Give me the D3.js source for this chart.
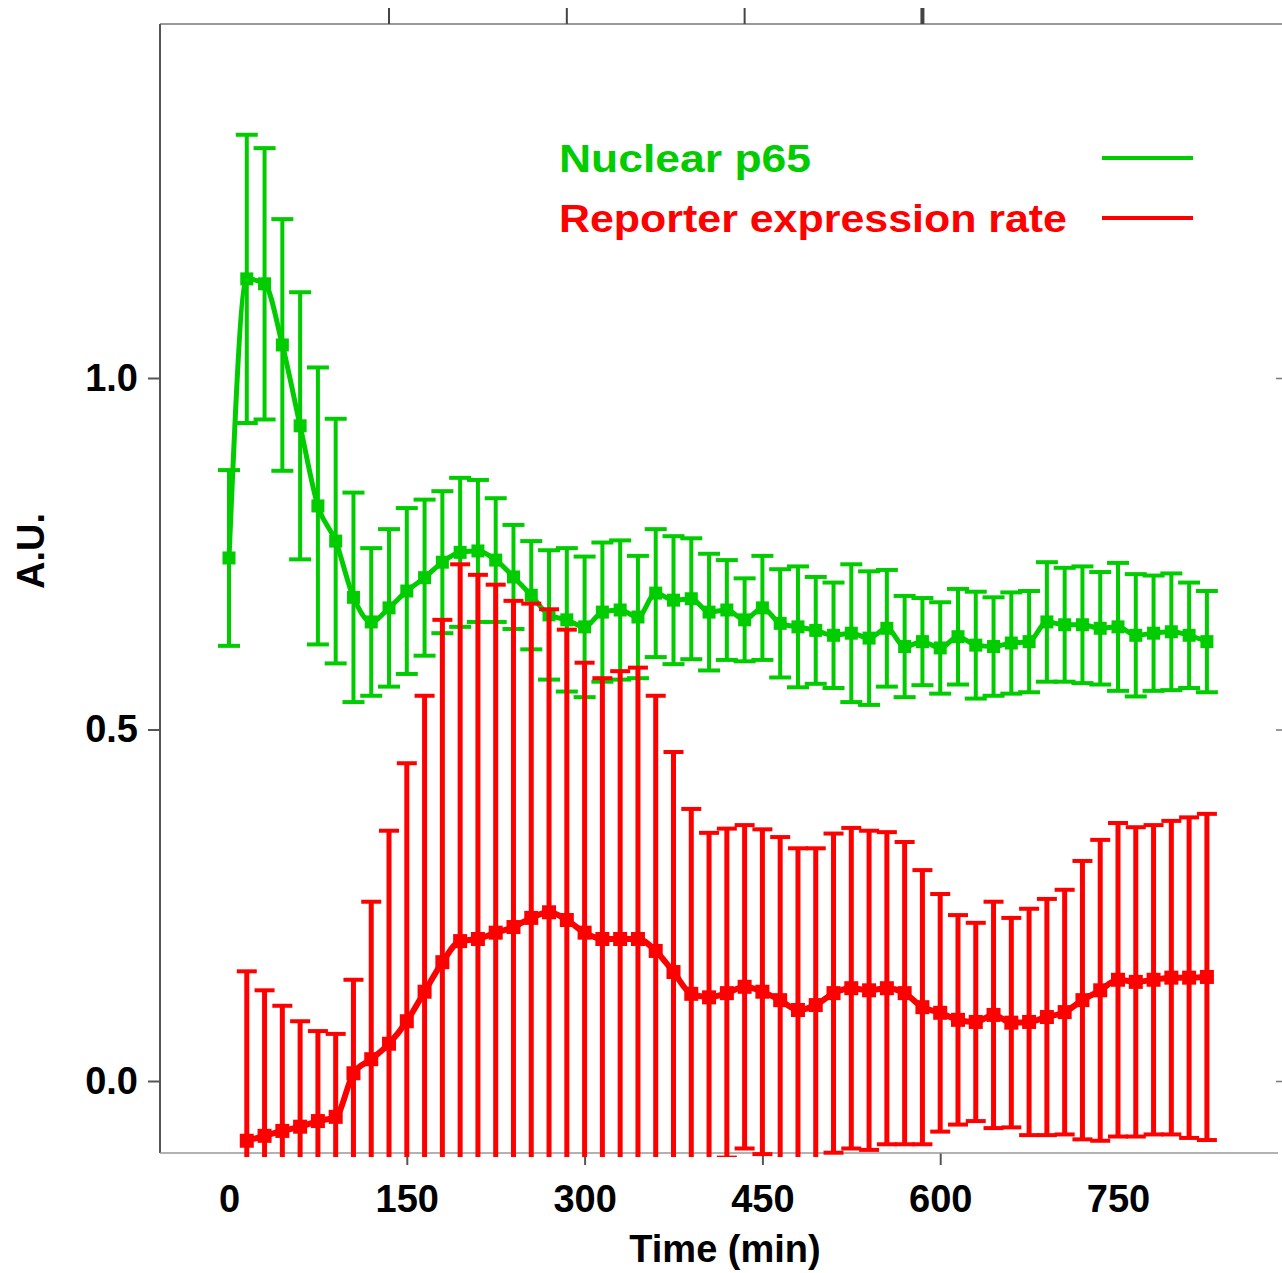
<!DOCTYPE html>
<html>
<head>
<meta charset="utf-8">
<script src="https://cdn.jsdelivr.net/npm/d3@7/dist/d3.min.js"></script>
<style>
  html, body { margin: 0; padding: 0; background: #fff; }
  svg { display: block; }
  text { font-family: "Liberation Sans", Arial, sans-serif; font-weight: bold; }
</style>
</head>
<body>
<script>
// ---------------- DATA ----------------
const greenTime = [0,15,30,45,60,75,90,105,120,135,150,165,180,195,210,225,240,255,270,285,300,315,330,345,360,375,390,405,420,435,450,465,480,495,510,525,540,555,570,585,600,615,630,645,660,675,690,705,720,735,750,765,780,795,810,825];
const greenMean = [0.744,1.141,1.134,1.047,0.932,0.818,0.768,0.688,0.653,0.673,0.697,0.716,0.738,0.752,0.754,0.741,0.717,0.691,0.663,0.656,0.646,0.667,0.670,0.660,0.694,0.684,0.686,0.667,0.670,0.656,0.673,0.651,0.646,0.641,0.634,0.637,0.630,0.644,0.618,0.625,0.616,0.632,0.620,0.618,0.623,0.625,0.653,0.649,0.649,0.644,0.646,0.634,0.637,0.639,0.634,0.625];
const greenErr  = [0.125,0.205,0.193,0.179,0.190,0.197,0.174,0.149,0.105,0.112,0.118,0.111,0.101,0.106,0.101,0.088,0.074,0.077,0.092,0.102,0.100,0.099,0.099,0.087,0.091,0.091,0.086,0.083,0.071,0.059,0.074,0.077,0.086,0.076,0.075,0.098,0.095,0.083,0.072,0.062,0.065,0.068,0.076,0.070,0.072,0.072,0.085,0.081,0.083,0.080,0.091,0.087,0.082,0.083,0.075,0.072];

const redTime = [15,30,45,60,75,90,105,120,135,150,165,180,195,210,225,240,255,270,285,300,315,330,345,360,375,390,405,420,435,450,465,480,495,510,525,540,555,570,585,600,615,630,645,660,675,690,705,720,735,750,765,780,795,810,825];
const redMean = [-0.085,-0.078,-0.071,-0.065,-0.057,-0.051,0.011,0.031,0.053,0.085,0.127,0.169,0.199,0.202,0.211,0.219,0.232,0.240,0.229,0.211,0.202,0.202,0.202,0.185,0.155,0.124,0.119,0.125,0.134,0.127,0.115,0.101,0.108,0.125,0.132,0.129,0.132,0.125,0.105,0.097,0.087,0.084,0.094,0.083,0.084,0.091,0.098,0.115,0.129,0.144,0.141,0.144,0.147,0.147,0.148];
const redErr  = [0.241,0.207,0.178,0.150,0.128,0.118,0.133,0.224,0.303,0.367,0.421,0.487,0.536,0.518,0.495,0.464,0.447,0.431,0.413,0.384,0.371,0.381,0.386,0.363,0.313,0.263,0.234,0.234,0.230,0.231,0.232,0.230,0.223,0.227,0.228,0.227,0.222,0.215,0.195,0.169,0.149,0.141,0.161,0.149,0.161,0.168,0.174,0.198,0.214,0.223,0.220,0.220,0.223,0.228,0.232];

const xTickLabels = [0,150,300,450,600,750];
const xTickMarks = [150,300,450,600];
const topTickMarks = [135,285,435,585];
const yTicks = [0.0,0.5,1.0];
const seriesNames = ["Nuclear p65","Reporter expression rate"];
const xTitle = "Time (min)";
const yTitle = "A.U.";

// ---------------- LAYOUT ----------------
const W = 1282, H = 1273;
const GREEN = "#00cc00", RED = "#ff0000", AXIS = "#555";
const plotLeft = 160, plotRight = 1282, plotTop = 24, plotBottom = 1153;

const x = d3.scaleLinear().domain([0, 750]).range([229, 1118]);
const y = d3.scaleLinear().domain([0, 1]).range([1081, 378]);

const svg = d3.select("body").append("svg").attr("width", W).attr("height", H);
svg.append("rect").attr("width", W).attr("height", H).attr("fill", "#fff");

svg.append("defs").append("clipPath").attr("id", "clip")
  .append("rect").attr("x", plotLeft).attr("y", plotTop)
  .attr("width", plotRight - plotLeft).attr("height", plotBottom - plotTop + 4);

// ---------------- AXES ----------------
// top axis
svg.append("line").attr("x1", plotLeft).attr("x2", plotRight).attr("y1", plotTop).attr("y2", plotTop)
  .attr("stroke", "#777").attr("stroke-width", 1.5);
svg.append("g").selectAll("line").data(topTickMarks).join("line")
  .attr("x1", d => x(d)).attr("x2", d => x(d)).attr("y1", plotTop).attr("y2", plotTop - 16)
  .attr("stroke", "#444").attr("stroke-width", (d, i) => i === topTickMarks.length - 1 ? 4 : 2);

// left axis
const yAxis = d3.axisLeft(y).tickValues(yTicks).tickFormat(d3.format(".1f")).tickSize(12).tickPadding(10);
const gy = svg.append("g").attr("transform", `translate(${plotLeft},0)`).call(yAxis);
gy.select(".domain").remove();
gy.selectAll(".tick line").attr("stroke", AXIS).attr("stroke-width", 2);
gy.selectAll(".tick text").attr("font-size", 38).attr("fill", "#000")
  .attr("font-family", "'Liberation Sans', Arial, sans-serif").attr("font-weight", "bold");
svg.append("line").attr("x1", plotLeft).attr("x2", plotLeft).attr("y1", plotTop).attr("y2", plotBottom)
  .attr("stroke", AXIS).attr("stroke-width", 2);

// right ticks
const yRight = d3.axisLeft(y).tickValues(yTicks).tickFormat("").tickSize(6);
const gr = svg.append("g").attr("transform", `translate(${plotRight},0)`).call(yRight);
gr.select(".domain").remove();
gr.selectAll(".tick line").attr("stroke", "#777").attr("stroke-width", 1.5);

// bottom axis
const xAxis = d3.axisBottom(x).tickValues(xTickLabels).tickFormat(d3.format("d")).tickSize(12).tickPadding(20);
const gx = svg.append("g").attr("transform", `translate(0,${plotBottom})`).call(xAxis);
gx.select(".domain").remove();
gx.selectAll(".tick line").attr("stroke", AXIS).attr("stroke-width", 2)
  .attr("opacity", d => xTickMarks.includes(d) ? 1 : 0);
gx.selectAll(".tick text").attr("font-size", 38).attr("fill", "#000")
  .attr("font-family", "'Liberation Sans', Arial, sans-serif").attr("font-weight", "bold");
svg.append("line").attr("x1", plotLeft).attr("x2", 1278).attr("y1", plotBottom).attr("y2", plotBottom)
  .attr("stroke", "#999").attr("stroke-width", 1.5);

// axis titles
svg.append("text").attr("x", 725).attr("y", 1262).attr("text-anchor", "middle")
  .attr("font-size", 38).attr("fill", "#000").text(xTitle);
svg.append("text").attr("transform", "translate(44,551) rotate(-90)").attr("text-anchor", "middle")
  .attr("font-size", 38).attr("fill", "#000").text(yTitle);

// ---------------- SERIES ----------------
function drawSeries(times, means, errs, color, opt) {
  const g = svg.append("g").attr("clip-path", "url(#clip)");
  const pts = times.map((t, i) => ({t, m: means[i], e: errs[i]}));
  // error bars
  g.selectAll(".stem").data(pts).join("line")
    .attr("x1", d => x(d.t)).attr("x2", d => x(d.t))
    .attr("y1", d => y(d.m + d.e)).attr("y2", d => y(d.m - d.e))
    .attr("stroke", color).attr("stroke-width", opt.stem);
  g.selectAll(".capT").data(pts).join("line")
    .attr("x1", d => x(d.t) - opt.cap / 2).attr("x2", d => x(d.t) + opt.cap / 2)
    .attr("y1", d => y(d.m + d.e)).attr("y2", d => y(d.m + d.e))
    .attr("stroke", color).attr("stroke-width", 4);
  g.selectAll(".capB").data(pts).join("line")
    .attr("x1", d => x(d.t) - opt.cap / 2).attr("x2", d => x(d.t) + opt.cap / 2)
    .attr("y1", d => y(d.m - d.e)).attr("y2", d => y(d.m - d.e))
    .attr("stroke", color).attr("stroke-width", 4);
  // line
  const line = d3.line().x(d => x(d.t)).y(d => y(d.m)).curve(d3.curveMonotoneX);
  g.append("path").datum(pts).attr("d", line).attr("fill", "none")
    .attr("stroke", color).attr("stroke-width", opt.line).attr("stroke-linejoin", "round");
  // markers
  g.selectAll(".mk").data(pts).join("rect")
    .attr("x", d => x(d.t) - opt.mk / 2).attr("y", d => y(d.m) - opt.mk / 2)
    .attr("width", opt.mk).attr("height", opt.mk).attr("fill", color);
}

drawSeries(greenTime, greenMean, greenErr, GREEN, {stem: 4, cap: 22, line: 5, mk: 13});
drawSeries(redTime, redMean, redErr, RED, {stem: 5, cap: 20, line: 6, mk: 14});

// ---------------- LEGEND ----------------
const legend = [
  {name: seriesNames[0], color: GREEN, y: 172, len: 252, ly: 158},
  {name: seriesNames[1], color: RED, y: 232, len: 508, ly: 218}
];
const lg = svg.append("g");
lg.selectAll("text").data(legend).join("text")
  .attr("x", 559).attr("y", d => d.y).attr("font-size", 39).attr("fill", d => d.color)
  .attr("textLength", d => d.len).attr("lengthAdjust", "spacingAndGlyphs")
  .text(d => d.name);
lg.selectAll("line").data(legend).join("line")
  .attr("x1", 1102).attr("x2", 1193).attr("y1", d => d.ly).attr("y2", d => d.ly)
  .attr("stroke", d => d.color).attr("stroke-width", 4);
</script>
</body>
</html>
